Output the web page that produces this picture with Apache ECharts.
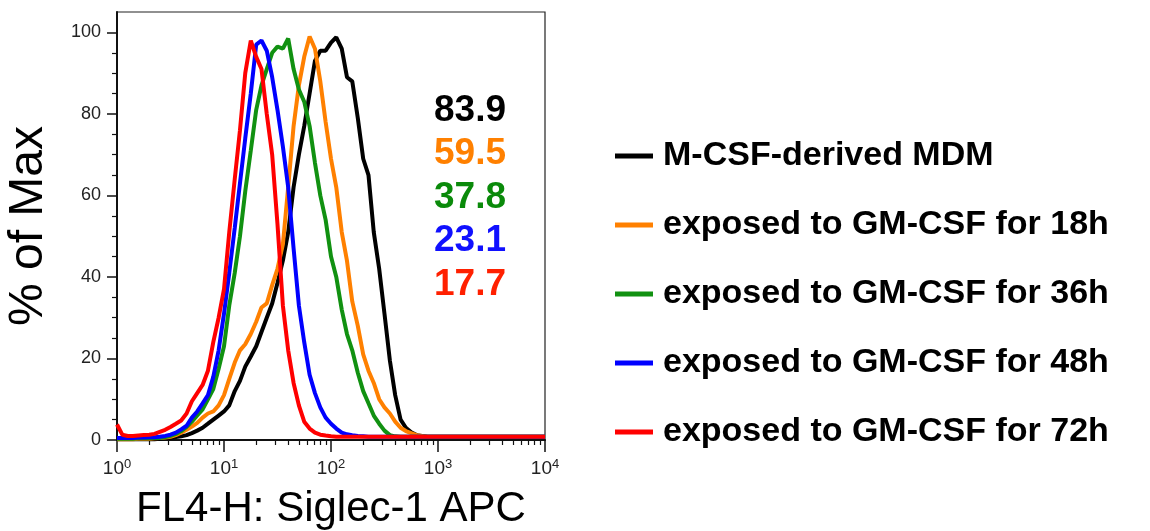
<!DOCTYPE html>
<html>
<head>
<meta charset="utf-8">
<script src="https://cdn.jsdelivr.net/npm/echarts@6.0.0/dist/echarts.min.js"></script>
<style>
html, body { margin: 0; padding: 0; background: #fff; }
#main { width: 1150px; height: 531px; }
</style>
</head>
<body>
<div id="main"></div>
<script>
// FL4 channel values (log spaced, 10^0 .. 10^4)
var channels = [1, 1.12, 1.26, 1.41, 1.58, 1.78, 2, 2.24, 2.51, 2.82, 3.16, 3.55, 3.98, 4.47, 5.01, 5.62, 6.31, 7.08, 7.94, 8.91,
    10, 11.2, 12.6, 14.1, 15.8, 17.8, 20, 22.4, 25.1, 28.2, 31.6, 35.5, 39.8, 44.7, 50.1, 56.2, 63.1, 70.8, 79.4, 89.1,
    100, 112, 126, 141, 158, 178, 200, 224, 251, 282, 316, 355, 398, 447, 501, 562, 631, 708, 794, 891,
    1000, 2000, 5000, 10000];

// % of Max for each sample
var mcsf = [0.2, 0.2, 0.2, 0.2, 0.2, 0.2, 0.2, 0.2,
    0.3, 0.4, 0.5, 0.7, 0.9, 1.2, 1.7, 2.3, 3, 4, 5, 6,
    7, 8.5, 12, 14.5, 18, 20.5, 23, 26.5, 30, 33.5, 38.5, 44, 51, 62, 70, 77, 85, 93, 95.5, 95.5,
    97.5, 98.8, 96, 89, 88, 79, 69, 65, 51, 42, 31, 19.5, 11, 5, 3, 1.9, 1.2, 1, 0.8, 0.8,
    0.8, 0.8, 0.8, 0.8];
var gm18 = [0.2, 0.2, 0.2, 0.2, 0.3, 0.3, 0.3, 0.4,
    0.5, 0.6, 0.8, 1.2, 1.8, 2.5, 3.3, 4.2, 5.5, 6.5, 7, 8.5,
    11, 15, 19, 22, 23.5, 26, 29, 32.5, 33.5, 38, 42, 48, 62, 77, 87, 94, 99, 96, 88, 78,
    69, 62, 51, 44, 34, 28, 21, 17, 14, 10, 8, 6.5, 4.5, 3, 2.2, 1.7, 1.2, 1, 0.8, 0.8,
    0.8, 0.8, 0.8, 0.8];
var gm36 = [0.3, 0.3, 0.3, 0.3, 0.4, 0.4, 0.4, 0.5,
    0.5, 0.7, 1, 1.5, 2.2, 3.2, 4.5, 6, 7.5, 10, 12.5, 17.5,
    23, 33, 41, 50, 61, 71, 81, 87, 91, 95, 96.5, 96, 98.5, 91, 86, 83, 77, 68, 60, 54,
    45, 40, 32, 26, 22, 16.5, 12, 9, 6, 4, 2.3, 1.2, 0.9, 0.8, 0.8, 0.8, 0.8, 0.8, 0.8, 0.8,
    0.8, 0.8, 0.8, 0.8];
var gm48 = [0.5, 0.5, 0.5, 0.5, 0.6, 0.6, 0.7, 0.7,
    0.8, 1, 1.3, 1.8, 2.6, 3.5, 5.5, 7, 9, 11, 15.5, 22,
    31, 41, 52, 63, 74, 85, 97, 98, 95.5, 89, 81, 72, 62, 47, 33, 24, 16, 11.5, 8, 5.5,
    4, 2.8, 1.8, 1.4, 1.2, 1, 0.9, 0.8, 0.8, 0.8, 0.8, 0.8, 0.8, 0.8, 0.8, 0.8, 0.8, 0.8, 0.8, 0.8,
    0.8, 0.8, 0.8, 0.8];
var gm72 = [3.8, 1.3, 1, 1, 1.1, 1.2, 1.3, 1.5,
    2, 2.5, 3.2, 4, 4.8, 6.5, 9.5, 11.5, 13.5, 17, 24, 30,
    37, 51, 64, 76, 90, 98, 94, 91, 80, 70, 53, 33, 22, 14, 8.5, 4.5, 2.8, 1.8, 1.3, 1.1,
    0.9, 0.8, 0.8, 0.8, 0.8, 0.8, 0.8, 0.8, 0.8, 0.8, 0.8, 0.8, 0.8, 0.8, 0.8, 0.8, 0.8, 0.8, 0.8, 0.8,
    0.8, 0.8, 0.8, 0.8];

var seriesNames = ['M-CSF-derived MDM', 'exposed to GM-CSF for 18h', 'exposed to GM-CSF for 36h',
    'exposed to GM-CSF for 48h', 'exposed to GM-CSF for 72h'];
var seriesData = [mcsf, gm18, gm36, gm48, gm72];
var lineColors = ['#000000', '#ff8000', '#119111', '#0000ff', '#ff0000'];
var pctLabels = ['83.9', '59.5', '37.8', '23.1', '17.7'];
var pctColors = ['#000000', '#ff8000', '#0a8a0a', '#1010ff', '#ff2000'];

var xMajorTicks = [1, 10, 100, 1000, 10000];
var xMinorTicks = [2, 3, 4, 5, 6, 7, 8, 9, 20, 30, 40, 50, 60, 70, 80, 90,
    200, 300, 400, 500, 600, 700, 800, 900, 2000, 3000, 4000, 5000, 6000, 7000, 8000, 9000];
var yMajorTicks = [0, 20, 40, 60, 80, 100];
var yMinorTicks = [5, 10, 15, 25, 30, 35, 45, 50, 55, 65, 70, 75, 85, 90, 95];

var FONT = '"Liberation Sans", Arial, sans-serif';

var chart = echarts.init(document.getElementById('main'));

var series = seriesNames.map(function (name, k) {
    return {
        name: name,
        type: 'line',
        xAxisIndex: 0,
        yAxisIndex: 0,
        showSymbol: false,
        symbol: 'none',
        color: lineColors[k],
        lineStyle: { width: 4, color: lineColors[k] },
        data: channels.map(function (c, i) { return [c, seriesData[k][i]]; })
    };
});

var option = {
    animation: false,
    backgroundColor: '#fff',
    grid: [
        { left: 117, top: 12, width: 428, height: 428, show: true, borderColor: '#222', borderWidth: 1.2,
          containLabel: false, outerBoundsMode: 'none' },
        { left: 117, top: 12, width: 428, height: 428, show: false, containLabel: false, outerBoundsMode: 'none' }
    ],
    legend: {
        orient: 'vertical',
        left: 610,
        top: 131,
        itemWidth: 38,
        itemHeight: 5,
        itemGap: 29,
        icon: 'rect',
        selectedMode: false,
        data: seriesNames,
        textStyle: { fontSize: 34, fontWeight: 'bold', color: '#000', lineHeight: 40, fontFamily: FONT, padding: [0, 0, 0, 5] }
    },
    xAxis: [
        {
            type: 'log', logBase: 10, min: 1, max: 10000, gridIndex: 0,
            name: 'FL4-H: Siglec-1 APC', nameLocation: 'middle', nameGap: 48,
            nameTextStyle: { fontSize: 42, color: '#000', fontFamily: FONT },
            axisLine: { show: true, lineStyle: { color: '#111', width: 2 } },
            axisTick: { show: true, customValues: xMajorTicks, length: 12, lineStyle: { color: '#111', width: 1.5 } },
            axisLabel: {
                customValues: xMajorTicks, margin: 18, color: '#222',
                formatter: function (v) {
                    return '{b|10}{s|' + Math.round(Math.log10(v)) + '}';
                },
                rich: {
                    b: { fontSize: 19, lineHeight: 22, fontFamily: FONT, color: '#222' },
                    s: { fontSize: 13, lineHeight: 12, verticalAlign: 'top', fontFamily: FONT, color: '#222' }
                }
            },
            splitLine: { show: false }
        },
        {
            type: 'log', logBase: 10, min: 1, max: 10000, gridIndex: 1,
            axisLine: { show: false },
            axisTick: { show: true, customValues: xMinorTicks, length: 5, lineStyle: { color: '#111', width: 1.2 } },
            axisLabel: { show: false },
            splitLine: { show: false }
        }
    ],
    yAxis: [
        {
            type: 'value', min: 0, max: 105, gridIndex: 0,
            name: '% of Max', nameLocation: 'middle', nameGap: 64,
            nameTextStyle: { fontSize: 48, color: '#000', fontFamily: FONT },
            axisLine: { show: true, lineStyle: { color: '#111', width: 2 } },
            axisTick: { show: true, customValues: yMajorTicks, length: 10, lineStyle: { color: '#111', width: 1.5 } },
            axisLabel: { customValues: yMajorTicks, margin: 16, fontSize: 18, color: '#222', fontFamily: FONT },
            splitLine: { show: false }
        },
        {
            type: 'value', min: 0, max: 105, gridIndex: 1,
            axisLine: { show: false },
            axisTick: { show: true, customValues: yMinorTicks, length: 5, lineStyle: { color: '#111', width: 1.2 } },
            axisLabel: { show: false },
            splitLine: { show: false }
        }
    ],
    graphic: pctLabels.map(function (t, i) {
        return {
            type: 'text',
            left: 434,
            top: 92 + i * 43.5,
            style: { text: t, fill: pctColors[i], font: 'bold 37px ' + FONT }
        };
    }),
    series: series
};

chart.setOption(option);
</script>
</body>
</html>
